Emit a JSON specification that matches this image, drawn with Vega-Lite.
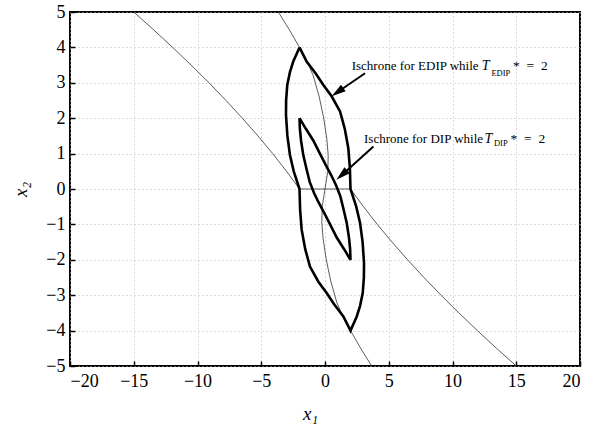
{
  "$schema": "https://vega.github.io/schema/vega-lite/v6.json",
  "width": 510,
  "height": 354,
  "autosize": "none",
  "padding": {"left": 70, "top": 12, "right": 15, "bottom": 64},
  "background": "white",
  "config": {
    "font": "Liberation Serif",
    "view": {"stroke": "black", "strokeWidth": 2},
    "axis": {
      "domain": false,
      "grid": true,
      "gridColor": "#b8b8b8",
      "gridDash": [1, 3],
      "gridWidth": 1,
      "ticks": true,
      "tickColor": "black",
      "tickWidth": 1.5,
      "tickSize": -5,
      "labelFont": "Liberation Serif",
      "labelFontSize": 18,
      "labelColor": "black",
      "titleFont": "Liberation Serif",
      "titleFontSize": 19,
      "titleFontWeight": "normal",
      "titleFontStyle": "italic",
      "titleColor": "black"
    }
  },
  "datasets": {
    "thin": [
      {"c": "A", "i": 0, "x": -15.0, "y": 5},
      {"c": "A", "i": 1, "x": -13.45, "y": 4.5},
      {"c": "A", "i": 2, "x": -11.95, "y": 4},
      {"c": "A", "i": 3, "x": -10.5, "y": 3.5},
      {"c": "A", "i": 4, "x": -9.1, "y": 3},
      {"c": "A", "i": 5, "x": -7.76, "y": 2.5},
      {"c": "A", "i": 6, "x": -6.48, "y": 2},
      {"c": "A", "i": 7, "x": -5.26, "y": 1.5},
      {"c": "A", "i": 8, "x": -4.1, "y": 1},
      {"c": "A", "i": 9, "x": -3.02, "y": 0.5},
      {"c": "A", "i": 10, "x": -2, "y": 0},
      {"c": "B", "i": 0, "x": 2, "y": 0},
      {"c": "B", "i": 1, "x": 3.02, "y": -0.5},
      {"c": "B", "i": 2, "x": 4.1, "y": -1},
      {"c": "B", "i": 3, "x": 5.26, "y": -1.5},
      {"c": "B", "i": 4, "x": 6.48, "y": -2},
      {"c": "B", "i": 5, "x": 7.76, "y": -2.5},
      {"c": "B", "i": 6, "x": 9.1, "y": -3},
      {"c": "B", "i": 7, "x": 10.5, "y": -3.5},
      {"c": "B", "i": 8, "x": 11.95, "y": -4},
      {"c": "B", "i": 9, "x": 13.45, "y": -4.5},
      {"c": "B", "i": 10, "x": 15.0, "y": -5},
      {"c": "C", "i": 0, "x": -3.66, "y": 5},
      {"c": "C", "i": 1, "x": -2.8, "y": 4.5},
      {"c": "C", "i": 2, "x": -2, "y": 4},
      {"c": "C", "i": 3, "x": -1.4, "y": 3.6},
      {"c": "C", "i": 4, "x": -0.92, "y": 3.2},
      {"c": "C", "i": 5, "x": -0.45, "y": 2.6},
      {"c": "C", "i": 6, "x": -0.1, "y": 2},
      {"c": "C", "i": 7, "x": 0.15, "y": 1.4},
      {"c": "C", "i": 8, "x": 0.25, "y": 0.95},
      {"c": "C", "i": 9, "x": 0.22, "y": 0.5},
      {"c": "C", "i": 10, "x": 0, "y": 0},
      {"c": "C", "i": 11, "x": -0.22, "y": -0.5},
      {"c": "C", "i": 12, "x": -0.25, "y": -0.95},
      {"c": "C", "i": 13, "x": -0.15, "y": -1.4},
      {"c": "C", "i": 14, "x": 0.1, "y": -2},
      {"c": "C", "i": 15, "x": 0.45, "y": -2.6},
      {"c": "C", "i": 16, "x": 0.92, "y": -3.2},
      {"c": "C", "i": 17, "x": 1.4, "y": -3.6},
      {"c": "C", "i": 18, "x": 2, "y": -4},
      {"c": "C", "i": 19, "x": 2.8, "y": -4.5},
      {"c": "C", "i": 20, "x": 3.66, "y": -5},
      {"c": "H", "i": 0, "x": -2, "y": 0},
      {"c": "H", "i": 1, "x": 2, "y": 0}
    ],
    "thick": [
      {"c": "EDIP", "i": 0, "x": -2, "y": 4},
      {"c": "EDIP", "i": 1, "x": -1.44, "y": 3.6},
      {"c": "EDIP", "i": 2, "x": -0.7, "y": 3.25},
      {"c": "EDIP", "i": 3, "x": -0.13, "y": 2.94},
      {"c": "EDIP", "i": 4, "x": 0.52, "y": 2.62},
      {"c": "EDIP", "i": 5, "x": 1.18, "y": 2.19},
      {"c": "EDIP", "i": 6, "x": 1.55, "y": 1.7},
      {"c": "EDIP", "i": 7, "x": 1.83, "y": 1.15},
      {"c": "EDIP", "i": 8, "x": 1.95, "y": 0.6},
      {"c": "EDIP", "i": 9, "x": 2, "y": 0},
      {"c": "EDIP", "i": 10, "x": 2.45, "y": -0.5},
      {"c": "EDIP", "i": 11, "x": 2.75, "y": -0.96},
      {"c": "EDIP", "i": 12, "x": 2.95, "y": -1.5},
      {"c": "EDIP", "i": 13, "x": 3.06, "y": -2.09},
      {"c": "EDIP", "i": 14, "x": 3.05, "y": -2.5},
      {"c": "EDIP", "i": 15, "x": 2.96, "y": -2.94},
      {"c": "EDIP", "i": 16, "x": 2.75, "y": -3.3},
      {"c": "EDIP", "i": 17, "x": 2.49, "y": -3.6},
      {"c": "EDIP", "i": 18, "x": 2, "y": -4},
      {"c": "EDIP", "i": 19, "x": 1.44, "y": -3.6},
      {"c": "EDIP", "i": 20, "x": 0.7, "y": -3.25},
      {"c": "EDIP", "i": 21, "x": 0.13, "y": -2.94},
      {"c": "EDIP", "i": 22, "x": -0.52, "y": -2.62},
      {"c": "EDIP", "i": 23, "x": -1.18, "y": -2.19},
      {"c": "EDIP", "i": 24, "x": -1.55, "y": -1.7},
      {"c": "EDIP", "i": 25, "x": -1.83, "y": -1.15},
      {"c": "EDIP", "i": 26, "x": -1.95, "y": -0.6},
      {"c": "EDIP", "i": 27, "x": -2, "y": 0},
      {"c": "EDIP", "i": 28, "x": -2.45, "y": 0.5},
      {"c": "EDIP", "i": 29, "x": -2.75, "y": 0.96},
      {"c": "EDIP", "i": 30, "x": -2.95, "y": 1.5},
      {"c": "EDIP", "i": 31, "x": -3.06, "y": 2.09},
      {"c": "EDIP", "i": 32, "x": -3.05, "y": 2.5},
      {"c": "EDIP", "i": 33, "x": -2.96, "y": 2.94},
      {"c": "EDIP", "i": 34, "x": -2.75, "y": 3.3},
      {"c": "EDIP", "i": 35, "x": -2.49, "y": 3.6},
      {"c": "EDIP", "i": 36, "x": -2, "y": 4},
      {"c": "DIP", "i": 0, "x": -2, "y": 2},
      {"c": "DIP", "i": 1, "x": -1.5, "y": 1.7},
      {"c": "DIP", "i": 2, "x": -0.92, "y": 1.37},
      {"c": "DIP", "i": 3, "x": -0.4, "y": 1.0},
      {"c": "DIP", "i": 4, "x": 0.1, "y": 0.65},
      {"c": "DIP", "i": 5, "x": 0.5, "y": 0.38},
      {"c": "DIP", "i": 6, "x": 0.85, "y": 0.12},
      {"c": "DIP", "i": 7, "x": 1.2, "y": -0.2},
      {"c": "DIP", "i": 8, "x": 1.44, "y": -0.55},
      {"c": "DIP", "i": 9, "x": 1.7, "y": -0.95},
      {"c": "DIP", "i": 10, "x": 1.88, "y": -1.37},
      {"c": "DIP", "i": 11, "x": 1.97, "y": -1.7},
      {"c": "DIP", "i": 12, "x": 2, "y": -2},
      {"c": "DIP", "i": 13, "x": 1.5, "y": -1.7},
      {"c": "DIP", "i": 14, "x": 0.92, "y": -1.37},
      {"c": "DIP", "i": 15, "x": 0.4, "y": -1.0},
      {"c": "DIP", "i": 16, "x": -0.1, "y": -0.65},
      {"c": "DIP", "i": 17, "x": -0.5, "y": -0.38},
      {"c": "DIP", "i": 18, "x": -0.85, "y": -0.12},
      {"c": "DIP", "i": 19, "x": -1.2, "y": 0.2},
      {"c": "DIP", "i": 20, "x": -1.44, "y": 0.55},
      {"c": "DIP", "i": 21, "x": -1.7, "y": 0.95},
      {"c": "DIP", "i": 22, "x": -1.88, "y": 1.37},
      {"c": "DIP", "i": 23, "x": -1.97, "y": 1.7},
      {"c": "DIP", "i": 24, "x": -2, "y": 2}
    ],
    "shafts": [
      {"c": "EDIP", "i": 0, "x": 3.14, "y": 3.27},
      {"c": "EDIP", "i": 1, "x": 0.8, "y": 2.69},
      {"c": "DIP", "i": 0, "x": 3.8, "y": 1.2},
      {"c": "DIP", "i": 1, "x": 1.15, "y": 0.34}
    ],
    "headEDIP": [{"x": 0.52, "y": 2.62}],
    "headDIP": [{"x": 0.9, "y": 0.26}],
    "mainText": [
      {"t": "Ischrone for EDIP while", "x": 2.09, "y": 3.35},
      {"t": "Ischrone for DIP while", "x": 3.06, "y": 1.3}
    ],
    "tText": [
      {"t": "T", "x": 12.3, "y": 3.35},
      {"t": "T", "x": 12.5, "y": 1.3}
    ],
    "subText": [
      {"t": "EDIP", "x": 13.05, "y": 3.2},
      {"t": "DIP", "x": 13.25, "y": 1.22}
    ],
    "eqText": [
      {"t": "*\u2002=\u20022", "x": 14.75, "y": 3.35},
      {"t": "*\u2002=\u20022", "x": 14.55, "y": 1.3}
    ]
  },
  "encoding": {
    "x": {
      "field": "x",
      "type": "quantitative",
      "scale": {"domain": [-20, 20], "nice": false, "zero": false},
      "axis": {
        "values": [-20, -15, -10, -5, 0, 5, 10, 15, 20],
        "labelFont": "Liberation Serif",
        "labelPadding": 11,
        "title": "x₁",
        "titleFont": "Liberation Serif",
        "titleX": 240,
        "titleY": 47,
        "titleBaseline": "middle"
      }
    },
    "y": {
      "field": "y",
      "type": "quantitative",
      "scale": {"domain": [-5, 5], "nice": false, "zero": false},
      "axis": {
        "values": [-5, -4, -3, -2, -1, 0, 1, 2, 3, 4, 5],
        "labelFont": "Liberation Serif",
        "labelPadding": 10,
        "title": "x₂",
        "titleFont": "Liberation Serif",
        "titleX": -50,
        "titleY": 177,
        "titleBaseline": "middle"
      }
    }
  },
  "layer": [
    {
      "data": {"name": "thin"},
      "mark": {"type": "line", "color": "#333333", "strokeWidth": 0.8},
      "encoding": {"detail": {"field": "c"}, "order": {"field": "i", "type": "quantitative"}}
    },
    {
      "data": {"name": "thick"},
      "mark": {"type": "line", "color": "black", "strokeWidth": 2.6, "strokeJoin": "miter"},
      "encoding": {"detail": {"field": "c"}, "order": {"field": "i", "type": "quantitative"}}
    },
    {
      "data": {"name": "shafts"},
      "mark": {"type": "line", "color": "black", "strokeWidth": 2},
      "encoding": {"detail": {"field": "c"}, "order": {"field": "i", "type": "quantitative"}}
    },
    {
      "data": {"name": "headEDIP"},
      "mark": {"type": "point", "shape": "M0,0L-0.45,1.6L0.45,1.6Z", "filled": true, "color": "black", "opacity": 1, "size": 320, "angle": 235}
    },
    {
      "data": {"name": "headDIP"},
      "mark": {"type": "point", "shape": "M0,0L-0.45,1.6L0.45,1.6Z", "filled": true, "color": "black", "opacity": 1, "size": 320, "angle": 228}
    },
    {
      "data": {"name": "mainText"},
      "mark": {"type": "text", "align": "left", "baseline": "alphabetic", "font": "Liberation Serif", "fontSize": 13, "color": "black"},
      "encoding": {"text": {"field": "t"}}
    },
    {
      "data": {"name": "tText"},
      "mark": {"type": "text", "align": "left", "baseline": "alphabetic", "font": "Liberation Serif", "fontStyle": "italic", "fontSize": 14, "color": "black"},
      "encoding": {"text": {"field": "t"}}
    },
    {
      "data": {"name": "subText"},
      "mark": {"type": "text", "align": "left", "baseline": "alphabetic", "font": "Liberation Serif", "fontSize": 8.5, "color": "black"},
      "encoding": {"text": {"field": "t"}}
    },
    {
      "data": {"name": "eqText"},
      "mark": {"type": "text", "align": "left", "baseline": "alphabetic", "font": "Liberation Serif", "fontSize": 13.5, "color": "black"},
      "encoding": {"text": {"field": "t"}}
    }
  ]
}
